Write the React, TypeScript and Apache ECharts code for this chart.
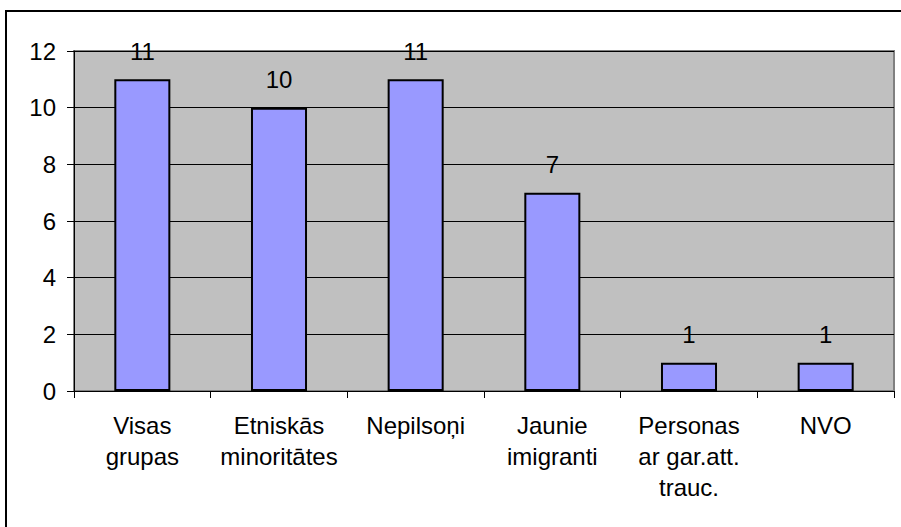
import React, { useEffect, useRef } from "react";
import * as echarts from "echarts";

const categories = [
  "Visas\ngrupas",
  "Etniskās\nminoritātes",
  "Nepilsoņi",
  "Jaunie\nimigranti",
  "Personas\nar gar.att.\ntrauc.",
  "NVO",
];
const values = [11, 10, 11, 7, 1, 1];
const yMin = 0;
const yMax = 12;
const yStep = 2;

const FONT = "'Liberation Sans', Arial, sans-serif";
const FS = 24;

export default function App() {
  const ref = useRef<HTMLDivElement>(null);
  useEffect(() => {
    if (!ref.current) return;
    const chart = echarts.init(ref.current, undefined, { renderer: "svg" });
    chart.setOption({
      animation: false,
      backgroundColor: "#ffffff",
      textStyle: { fontFamily: FONT },
      graphic: [
        {
          type: "rect",
          shape: { x: 6, y: 11, width: 1000, height: 1000 },
          style: { fill: "none", stroke: "#000", lineWidth: 2 },
          silent: true,
        },
      ],
      grid: {
        left: 74,
        top: 51,
        right: 7,
        bottom: 136,
        show: true,
        backgroundColor: "#C0C0C0",
        borderColor: "#808080",
        borderWidth: 2,
      },
      xAxis: {
        type: "category",
        data: categories,
        axisLine: { show: true, lineStyle: { color: "#000", width: 1 } },
        axisTick: { show: true, length: 7, alignWithLabel: false, lineStyle: { color: "#000" } },
        axisLabel: {
          color: "#000",
          fontSize: FS,
          fontFamily: FONT,
          lineHeight: 31,
          margin: 19,
          interval: 0,
        },
      },
      yAxis: {
        type: "value",
        min: yMin,
        max: yMax,
        interval: yStep,
        axisLine: { show: true, lineStyle: { color: "#000", width: 1 } },
        axisTick: { show: true, length: 7, lineStyle: { color: "#000" } },
        axisLabel: { color: "#000", fontSize: FS, fontFamily: FONT, margin: 18 },
        splitLine: { show: true, lineStyle: { color: "#000", width: 1 } },
      },
      series: [
        {
          type: "bar",
          data: values,
          barWidth: "41%",
          itemStyle: { color: "#9999FF", borderColor: "#000", borderWidth: 2 },
          label: {
            show: true,
            position: "top",
            distance: 16,
            color: "#000",
            fontSize: FS,
            fontFamily: FONT,
          },
        },
      ],
    });
    return () => chart.dispose();
  }, []);
  return (
    <div
      ref={ref}
      style={{ position: "absolute", left: 0, top: 0, width: 901, height: 527 }}
    />
  );
}
